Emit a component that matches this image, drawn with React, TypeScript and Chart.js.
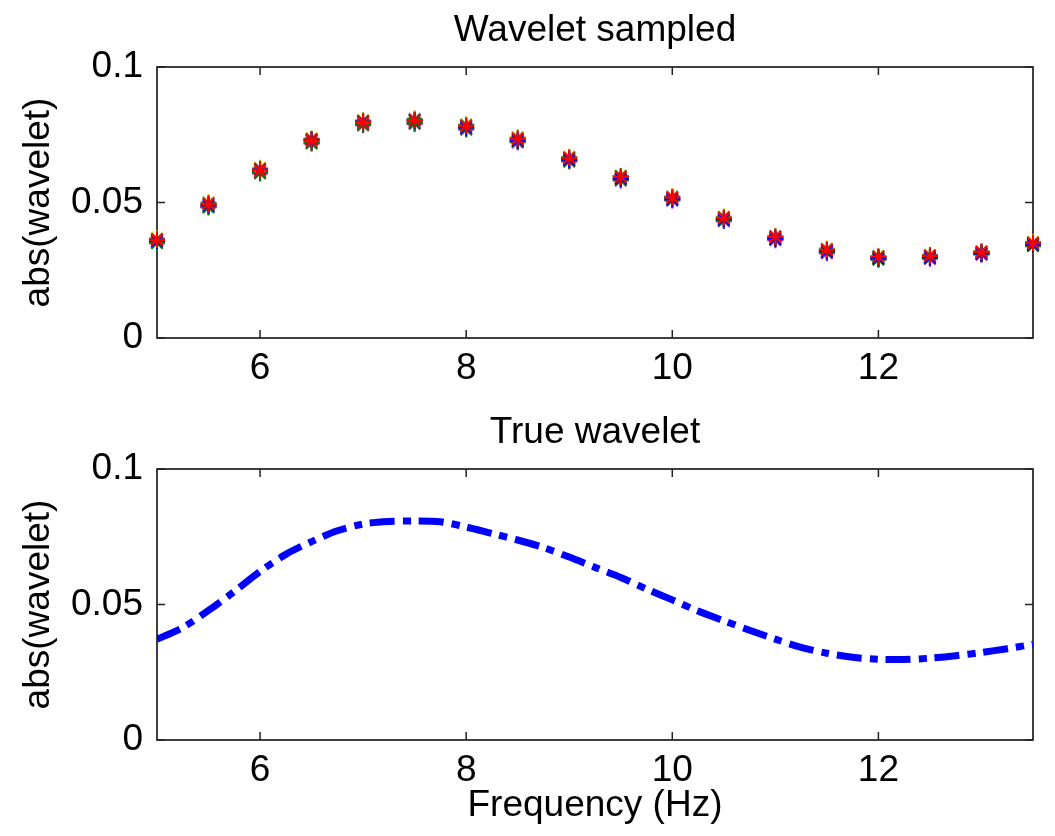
import React, { useEffect, useRef } from 'react';
import { Chart, registerables } from 'chart.js';
Chart.register(...registerables);

// ---- data ----
const sampledFreq = [5, 5.5, 6, 6.5, 7, 7.5, 8, 8.5, 9, 9.5, 10, 10.5, 11, 11.5, 12, 12.5, 13, 13.5];
const sampledRed = [0.0362, 0.0494, 0.0620, 0.0730, 0.0797, 0.0804, 0.0782, 0.0735, 0.0664, 0.0594, 0.0518, 0.0443, 0.0373, 0.0325, 0.0299, 0.0303, 0.0317, 0.0350];
const sampledBlue = [0.0358, 0.0490, 0.0621, 0.0731, 0.0798, 0.0803, 0.0777, 0.0729, 0.0658, 0.0588, 0.0512, 0.0438, 0.0367, 0.0320, 0.0294, 0.0297, 0.0312, 0.0345];
const sampledGreen = [0.0350, 0.0482, 0.0609, 0.0719, 0.0787, 0.0793, 0.0771, 0.0724, 0.0654, 0.0584, 0.0510, 0.0434, 0.0365, 0.0316, 0.0289, 0.0295, 0.0310, 0.0340];
const sampledYellow = [0.0368, 0.0501, 0.0628, 0.0737, 0.0804, 0.0810, 0.0789, 0.0741, 0.0669, 0.0599, 0.0523, 0.0448, 0.0377, 0.0330, 0.0303, 0.0307, 0.0321, 0.0355];
const sampledMagenta = [0.0352, 0.0484, 0.0607, 0.0718, 0.0785, 0.0790, 0.0769, 0.0722, 0.0651, 0.0581, 0.0507, 0.0431, 0.0361, 0.0313, 0.0291, 0.0292, 0.0308, 0.0339];
const sampledCyan = [0.0363, 0.0495, 0.0621, 0.0731, 0.0799, 0.0807, 0.0784, 0.0733, 0.0662, 0.0596, 0.0519, 0.0441, 0.0371, 0.0324, 0.0298, 0.0301, 0.0316, 0.0349];
const sampledDark = [0.0365, 0.0497, 0.0624, 0.0734, 0.0801, 0.0805, 0.0785, 0.0737, 0.0666, 0.0597, 0.0520, 0.0445, 0.0375, 0.0327, 0.0301, 0.0305, 0.0319, 0.0352];
const sampledRed2 = [0.0355, 0.0486, 0.0613, 0.0723, 0.0790, 0.0796, 0.0774, 0.0726, 0.0655, 0.0587, 0.0512, 0.0435, 0.0364, 0.0317, 0.0292, 0.0295, 0.0309, 0.0343];

const trueFreq = [5, 5.25, 5.5, 5.75, 6, 6.25, 6.5, 6.75, 7, 7.25, 7.5, 7.75, 8, 8.25, 8.5, 8.75, 9, 9.25, 9.5, 9.75, 10, 10.25, 10.5, 10.75, 11, 11.25, 11.5, 11.75, 12, 12.25, 12.5, 12.75, 13, 13.25, 13.5];
const trueWavelet = [0.0372, 0.0415, 0.0478, 0.0548, 0.0622, 0.0685, 0.0732, 0.0772, 0.0797, 0.0806, 0.0808, 0.0805, 0.0786, 0.0762, 0.0738, 0.0710, 0.0675, 0.0637, 0.0600, 0.0557, 0.0517, 0.0476, 0.0440, 0.0405, 0.0372, 0.0342, 0.0320, 0.0305, 0.0298, 0.0297, 0.0302, 0.0311, 0.0323, 0.0337, 0.0353];

const xTicks = [6, 8, 10, 12];
const yTicks = [0, 0.05, 0.1];
const xMin = 5;
const xMax = 13.5;
const yMin = 0;
const yMax = 0.1;

const FONT = "'Liberation Sans', Arial, Helvetica, sans-serif";
const FS = 37;

const boxPlugin = {
  id: 'matlabBox',
  beforeDatasetsDraw(chart: any) {
    const { ctx, chartArea: a, scales } = chart;
    const sx = scales.x;
    const sy = scales.y;
    ctx.save();
    ctx.strokeStyle = '#000';
    ctx.lineWidth = 1.5;
    ctx.strokeRect(a.left, a.top, a.right - a.left, a.bottom - a.top);
    const tl = 8;
    ctx.strokeStyle = '#222';
    ctx.beginPath();
    for (const v of xTicks) {
      const px = sx.getPixelForValue(v);
      ctx.moveTo(px, a.bottom);
      ctx.lineTo(px, a.bottom - tl);
      ctx.moveTo(px, a.top);
      ctx.lineTo(px, a.top + tl);
    }
    for (const v of yTicks) {
      const py = sy.getPixelForValue(v);
      ctx.moveTo(a.left, py);
      ctx.lineTo(a.left + tl, py);
      ctx.moveTo(a.right, py);
      ctx.lineTo(a.right - tl, py);
    }
    ctx.stroke();
    ctx.restore();
  },
};

function makeOptions(title: string, height: number, xTitle: string | null) {
  return {
    responsive: false,
    animation: false as const,
    layout: { padding: { left: 0, right: 22, top: 0, bottom: 0 } },
    plugins: {
      legend: { display: false },
      tooltip: { enabled: false },
      title: { display: false },
    },
    scales: {
      xTop: {
        type: 'linear' as const,
        position: 'top' as const,
        min: xMin,
        max: xMax,
        grid: { display: false, drawTicks: false },
        border: { display: false },
        ticks: { display: false },
        afterFit: (s: any) => {
          s.height = 67;
        },
        title: {
          display: true,
          text: title,
          color: '#000',
          font: { family: FONT, size: FS },
          padding: { top: 9, bottom: 0 },
        },
      },
      x: {
        type: 'linear' as const,
        position: 'bottom' as const,
        min: xMin,
        max: xMax,
        grid: { display: false, drawTicks: false },
        border: { display: false },
        afterBuildTicks: (s: any) => {
          s.ticks = xTicks.map((v) => ({ value: v }));
        },
        afterFit: (s: any) => {
          s.height = height - 338;
        },
        ticks: {
          color: '#000',
          padding: 9,
          maxRotation: 0,
          autoSkip: false,
          font: { family: FONT, size: FS },
          callback: (v: any) => String(v),
        },
        title: xTitle
          ? {
              display: true,
              text: xTitle,
              color: '#000',
              font: { family: FONT, size: FS },
              padding: { top: 0, bottom: 8 },
            }
          : { display: false },
      },
      y: {
        type: 'linear' as const,
        min: yMin,
        max: yMax,
        grid: { display: false, drawTicks: false },
        border: { display: false },
        afterBuildTicks: (s: any) => {
          s.ticks = yTicks.map((v) => ({ value: v }));
        },
        afterFit: (s: any) => {
          s.width = 157;
        },
        ticks: {
          color: '#000',
          padding: 14,
          autoSkip: false,
          font: { family: FONT, size: FS },
          callback: (v: any) => String(v),
        },
        title: {
          display: true,
          text: 'abs(wavelet)',
          color: '#000',
          font: { family: FONT, size: FS },
          padding: { top: 17, bottom: 0 },
        },
      },
    },
  };
}

const sampledSeries: { color: string; values: number[] }[] = [
  { color: '#FF0000', values: sampledRed },
  { color: '#0000FF', values: sampledBlue },
  { color: '#7F3F2A', values: sampledDark },
  { color: '#008000', values: sampledGreen },
  { color: '#00BFBF', values: sampledCyan },
  { color: '#BF00BF', values: sampledMagenta },
  { color: '#BFBF00', values: sampledYellow },
  { color: '#E00000', values: sampledRed2 },
];

export default function App() {
  const topRef = useRef<HTMLCanvasElement>(null);
  const botRef = useRef<HTMLCanvasElement>(null);

  useEffect(() => {
    const top = new Chart(topRef.current!, {
      type: 'scatter',
      data: {
        datasets: sampledSeries.map((s) => ({
          data: sampledFreq.map((f, i) => ({ x: f, y: s.values[i] })),
          pointStyle: 'star',
          pointRadius: 8,
          pointBorderWidth: 2,
          borderColor: s.color,
          backgroundColor: s.color,
          showLine: false,
          clip: false as any,
        })),
      },
      options: makeOptions('Wavelet sampled', 400, null) as any,
      plugins: [boxPlugin],
    });
    const bot = new Chart(botRef.current!, {
      type: 'scatter',
      data: {
        datasets: [
          {
            data: trueFreq.map((f, i) => ({ x: f, y: trueWavelet[i] })),
            showLine: true,
            pointRadius: 0,
            borderColor: '#0000FF',
            backgroundColor: '#0000FF',
            borderWidth: 7,
            borderDash: [25, 8, 8, 8],
            borderCapStyle: 'butt',
            tension: 0.3,
          },
        ],
      },
      options: makeOptions('True wavelet', 434, 'Frequency (Hz)') as any,
      plugins: [boxPlugin],
    });
    return () => {
      top.destroy();
      bot.destroy();
    };
  }, []);

  return (
    <div style={{ position: 'absolute', left: 0, top: 0, width: 1055, height: 836, background: '#fff' }}>
      <canvas ref={topRef} width={1055} height={400} style={{ position: 'absolute', left: 0, top: 0 }} />
      <canvas ref={botRef} width={1055} height={434} style={{ position: 'absolute', left: 0, top: 402 }} />
    </div>
  );
}
